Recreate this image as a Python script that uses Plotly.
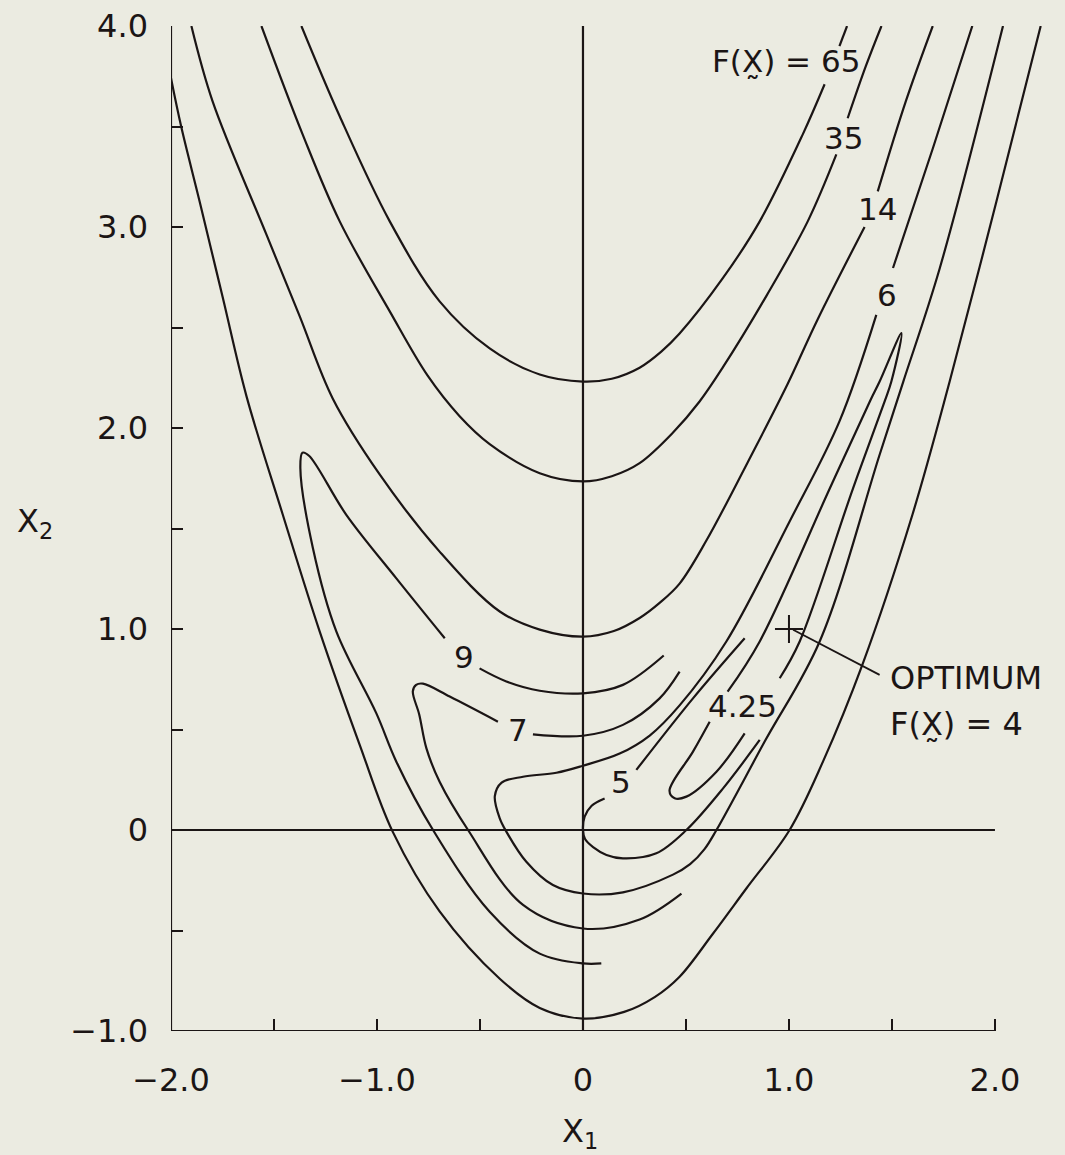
import plotly.graph_objects as go

# ---------------- data (x1, x2) ----------------
# contour F = 65 (upper branch), split by its inline label
C65_MAIN = [(-1.367, 4.0), (-1.181, 3.551), (-0.938, 3.028), (-0.696, 2.630), (-0.453, 2.396),
            (-0.210, 2.266), (0.0, 2.231), (0.14, 2.245), (0.275, 2.30), (0.38, 2.38), (0.469, 2.47),
            (0.678, 2.744), (0.858, 3.028), (1.067, 3.461), (1.173, 3.710)]
C65_TOP = [(1.245, 3.90), (1.282, 4.0)]

# contour F = 35
C35_MAIN = [(-1.561, 4.0), (-1.361, 3.461), (-1.181, 3.028), (-0.938, 2.580), (-0.754, 2.26),
            (-0.60, 2.06), (-0.453, 1.92), (-0.210, 1.775), (0.0, 1.734), (0.14, 1.76), (0.275, 1.825),
            (0.435, 1.975), (0.566, 2.132), (0.678, 2.30), (0.892, 2.66), (1.091, 3.028), (1.230, 3.361)]
C35_TOP = [(1.285, 3.541), (1.373, 3.80), (1.449, 4.0)]

# contour F = 14, upper and lower branches
C14U_MAIN = [(-1.901, 4.0), (-1.798, 3.625), (-1.537, 2.963), (-1.375, 2.555), (-1.215, 2.147),
             (-0.987, 1.769), (-0.696, 1.385), (-0.404, 1.087), (-0.210, 0.997), (0.0, 0.962),
             (0.15, 0.99), (0.275, 1.055), (0.372, 1.13), (0.469, 1.226), (0.599, 1.44), (0.800, 1.83),
             (0.994, 2.22), (1.139, 2.54), (1.367, 3.0)]
C14U_TOP = [(1.431, 3.177), (1.567, 3.625), (1.698, 4.0)]
C14L = [(-2.0, 3.74), (-1.95, 3.497), (-1.861, 3.127), (-1.749, 2.65), (-1.634, 2.16),
        (-1.458, 1.571), (-1.278, 0.987), (-1.084, 0.424), (-0.924, -0.008), (-0.696, -0.405),
        (-0.404, -0.74), (-0.210, -0.885), (0.0, -0.938), (0.2, -0.905), (0.35, -0.83), (0.469, -0.73),
        (0.628, -0.52), (0.793, -0.291), (1.003, 0.0), (1.165, 0.34), (1.357, 0.824),
        (1.600, 1.571), (1.780, 2.231), (2.007, 3.127), (2.222, 4.0)]

# contour F = 9 (lobe on the left, open ends on the right)
C9_A = [(0.089, -0.664), (0.0, -0.664), (-0.210, -0.615), (-0.453, -0.407), (-0.728, 0.0),
        (-0.906, 0.34), (-1.003, 0.58), (-1.197, 0.987), (-1.311, 1.402), (-1.372, 1.80),
        (-1.362, 1.877), (-1.33, 1.862), (-1.149, 1.568), (-0.906, 1.252), (-0.671, 0.954)]
C9_B = [(-0.502, 0.804), (-0.372, 0.739), (-0.210, 0.693), (0.0, 0.68), (0.194, 0.722), (0.392, 0.868)]

# contour F = 7
C7_A = [(0.478, -0.316), (0.275, -0.445), (0.0, -0.49), (-0.291, -0.373), (-0.558, 0.0),
        (-0.696, 0.24), (-0.760, 0.406), (-0.795, 0.575), (-0.826, 0.69), (-0.81, 0.722),
        (-0.777, 0.728), (-0.647, 0.664), (-0.413, 0.539)]
C7_B = [(-0.243, 0.476), (0.0, 0.469), (0.194, 0.523), (0.372, 0.655), (0.469, 0.788)]

# contour F = 6
C6_MAIN = [(2.039, 4.0), (1.732, 2.795), (1.555, 2.231), (1.44, 1.867), (1.149, 0.938),
           (0.882, 0.44), (0.648, 0.0), (0.59, -0.095), (0.52, -0.17), (0.437, -0.222), (0.194, -0.31),
           (0.0, -0.316), (-0.146, -0.274), (-0.275, -0.158), (-0.372, -0.008), (-0.404, 0.058),
           (-0.428, 0.168), (-0.395, 0.236), (-0.291, 0.265), (-0.129, 0.285), (0.0, 0.320),
           (0.178, 0.380), (0.324, 0.47), (0.469, 0.62), (0.696, 0.938), (1.003, 1.535),
           (1.245, 2.033), (1.424, 2.563)]
C6_TOP = [(1.505, 2.796), (1.699, 3.393), (1.890, 4.0)]

# contour F = 5
C5_A = [(0.105, 0.157), (0.042, 0.121), (0.008, 0.066), (0.0, 0.0), (0.01, -0.045), (0.049, -0.085),
        (0.114, -0.124), (0.194, -0.141), (0.356, -0.116), (0.502, 0.0), (0.680, 0.207), (0.858, 0.448)]
C5_B = [(0.259, 0.299), (0.534, 0.655), (0.785, 0.954)]

# contour F = 4.25 (closed, split by its label)
C425_A = [(0.702, 0.688), (0.858, 0.938), (1.198, 1.699), (1.392, 2.131), (1.440, 2.231),
          (1.546, 2.472), (1.497, 2.231), (1.464, 2.131), (1.311, 1.700), (1.052, 0.938), (0.955, 0.755)]
C425_B = [(0.615, 0.539), (0.534, 0.390), (0.42, 0.195), (0.445, 0.158), (0.502, 0.166),
          (0.648, 0.290), (0.785, 0.481)]

OPT_X1 = [1.0]
OPT_X2 = [1.0]

X_TICKS = [-2.0, -1.0, 0.0, 1.0, 2.0]
X_TICKTEXT = ["\u22122.0", "\u22121.0", "0", "1.0", "2.0"]
X_MINOR = [-1.5, -0.5, 0.5, 1.5]
Y_TICKS = [-1.0, 0.0, 1.0, 2.0, 3.0, 4.0]
Y_TICKTEXT = ["\u22121.0", "0", "1.0", "2.0", "3.0", "4.0"]
Y_MINOR = [-0.5, 0.5, 1.5, 2.5, 3.5]

# contour labels: (text, x1, x2)
LABELS = [("F(X\u0330) = 65", 0.985, 3.824), ("35", 1.266, 3.442), ("14", 1.431, 3.088),
          ("6", 1.474, 2.660), ("9", -0.579, 0.863), ("7", -0.317, 0.499),
          ("5", 0.183, 0.241), ("4.25", 0.775, 0.619)]

INK = "#1b1515"
BG = "#ebebe1"
FONT = "DejaVu Sans"

pieces = [C65_MAIN, C65_TOP, C35_MAIN, C35_TOP, C14U_MAIN, C14U_TOP, C14L, C9_A, C9_B,
          C7_A, C7_B, C6_MAIN, C6_TOP, C5_A, C5_B, C425_A, C425_B]

fig = go.Figure()
for pts in pieces:
    fig.add_trace(go.Scatter(
        x=[p[0] for p in pts], y=[p[1] for p in pts], mode="lines",
        line=dict(color=INK, width=2.2, shape="spline", smoothing=1.0),
        hoverinfo="skip", showlegend=False))

fig.add_trace(go.Scatter(x=OPT_X1, y=OPT_X2, mode="markers",
                         marker=dict(symbol="cross-thin", size=20, line=dict(color=INK, width=2)),
                         hoverinfo="skip", showlegend=False))

# frame lines: left axis, bottom axis, the x2 = 0 and x1 = 0 lines
line_style = dict(color=INK, width=2.2)
fig.add_shape(type="line", x0=X_TICKS[0], x1=X_TICKS[0], y0=Y_TICKS[0], y1=Y_TICKS[-1], line=line_style)
fig.add_shape(type="line", x0=X_TICKS[0], x1=X_TICKS[-1], y0=Y_TICKS[0], y1=Y_TICKS[0], line=line_style)
fig.add_shape(type="line", x0=X_TICKS[0], x1=X_TICKS[-1], y0=0, y1=0, line=line_style)
fig.add_shape(type="line", x0=0, x1=0, y0=Y_TICKS[0], y1=Y_TICKS[-1], line=line_style)
# leader from the optimum to its note
fig.add_shape(type="line", x0=1.02, y0=0.996, x1=1.44, y1=0.772, line=dict(color=INK, width=1.8))

for text, x, y in LABELS:
    fig.add_annotation(x=x, y=y, text=text, showarrow=False,
                       font=dict(family=FONT, size=31, color=INK))

fig.add_annotation(x=1.479, y=0.754, text="OPTIMUM", showarrow=False, xanchor="left",
                   font=dict(family=FONT, size=32, color=INK))
fig.add_annotation(x=1.479, y=0.525, text="F(X\u0330) = 4", showarrow=False, xanchor="left",
                   font=dict(family=FONT, size=32, color=INK))

# axis titles
fig.add_annotation(xref="paper", yref="paper", x=-0.152, y=0.5055, text="X<sub>2</sub>",
                   xanchor="center", yanchor="middle",
                   showarrow=False, font=dict(family=FONT, size=32, color=INK))
fig.add_annotation(xref="paper", yref="paper", x=0.4575, y=-0.1015, text="X<sub>1</sub>",
                   xanchor="center", yanchor="middle",
                   showarrow=False, font=dict(family=FONT, size=32, color=INK))

tick_common = dict(ticks="inside", ticklen=12, tickwidth=2, tickcolor=INK, showgrid=False,
                   zeroline=False, showline=False, tickfont=dict(family=FONT, size=32, color=INK))
fig.update_layout(
    width=1065, height=1155,
    margin=dict(l=171, r=0, t=26, b=124),
    paper_bgcolor=BG, plot_bgcolor=BG,
    showlegend=False, hovermode=False,
    xaxis=dict(range=[-2.0, 2.34], tickvals=X_TICKS, ticktext=X_TICKTEXT, ticklabelstandoff=27,
               minor=dict(tickvals=X_MINOR, ticks="inside", ticklen=12, tickwidth=2, tickcolor=INK,
                          showgrid=False),
               **tick_common),
    yaxis=dict(range=[-1.0, 4.0], tickvals=Y_TICKS, ticktext=Y_TICKTEXT, ticklabelstandoff=22,
               minor=dict(tickvals=Y_MINOR, ticks="inside", ticklen=12, tickwidth=2, tickcolor=INK,
                          showgrid=False),
               **tick_common),
)

fig.write_html("out.html", config={"displayModeBar": False, "staticPlot": True},
               post_script="document.body.style.margin='0';")
